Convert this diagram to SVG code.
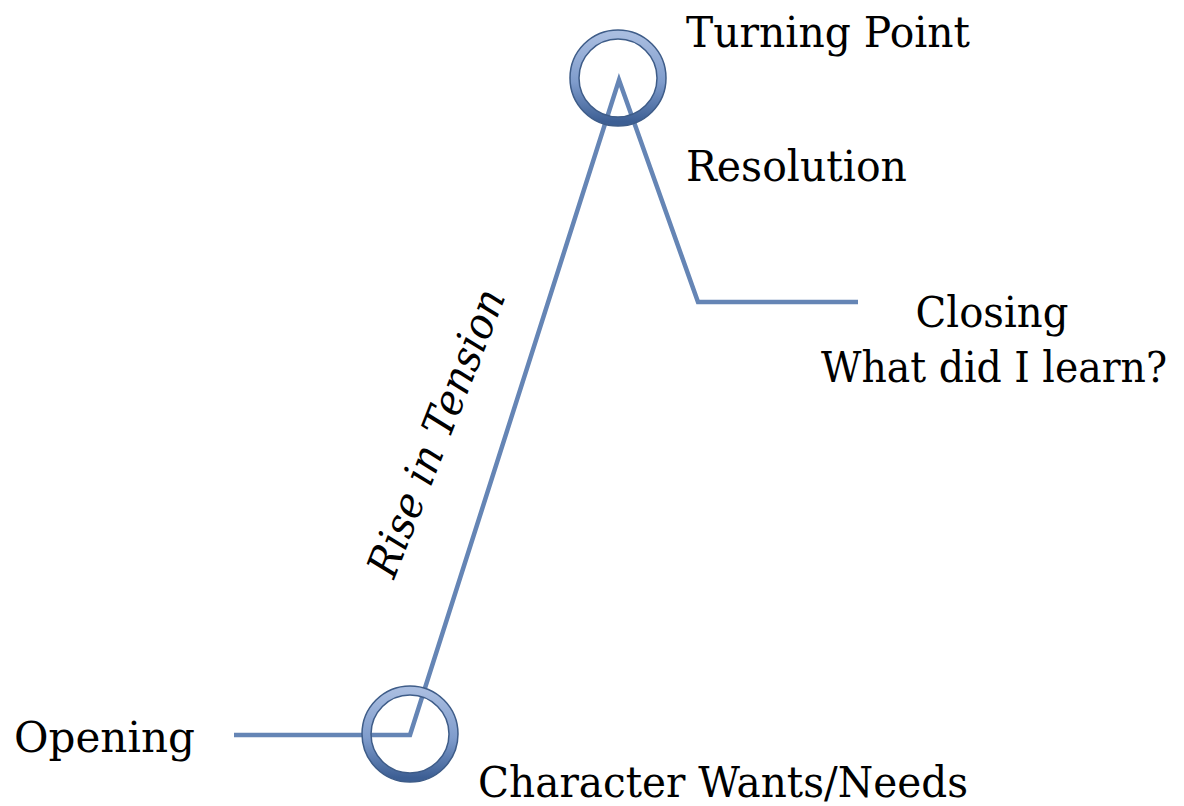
<svg xmlns="http://www.w3.org/2000/svg" width="1184" height="806" viewBox="0 0 1184 806">
<style>
.t{font-family:"DejaVu Serif","Liberation Serif",serif;font-size:43px;fill:#000}
.ln{fill:none;stroke:#6585b5;stroke-width:4.5;stroke-linejoin:miter}
.ring{fill:none;stroke:url(#rg);stroke-width:9}
.edge{fill:none;stroke:#3e5c88;stroke-width:1.5}
</style>
<defs>
<linearGradient id="rg" x1="0" y1="0" x2="0" y2="1">
<stop offset="0" stop-color="#a9bde0"/>
<stop offset="0.55" stop-color="#7f9ccc"/>
<stop offset="1" stop-color="#3d5f94"/>
</linearGradient>
</defs>
<rect width="1184" height="806" fill="#fff"/>
<g id="connectors">
<polyline class="ln" points="234,735 410,735 619,80 698,302 858,302"/>
</g>
<g id="ring-turning">
<circle class="ring" cx="618" cy="78" r="43.5"/>
<circle class="edge" cx="618" cy="78" r="48"/>
<circle class="edge" cx="618" cy="78" r="39"/>
</g>
<g id="ring-character">
<circle class="ring" cx="410" cy="734" r="43.5"/>
<circle class="edge" cx="410" cy="734" r="48"/>
<circle class="edge" cx="410" cy="734" r="39"/>
</g>
<g id="turning-point"><text class="t" x="686" y="47" textLength="284" lengthAdjust="spacingAndGlyphs">Turning Point</text></g>
<g id="resolution"><text class="t" x="686" y="181" textLength="221" lengthAdjust="spacingAndGlyphs">Resolution</text></g>
<g id="closing">
<text class="t" x="992" y="327" text-anchor="middle" textLength="153" lengthAdjust="spacingAndGlyphs">Closing</text>
<text class="t" x="994" y="382" text-anchor="middle" textLength="346" lengthAdjust="spacingAndGlyphs">What did I learn?</text>
</g>
<g id="opening"><text class="t" x="14" y="752" textLength="181" lengthAdjust="spacingAndGlyphs">Opening</text></g>
<g id="character"><text class="t" x="478" y="797" textLength="490" lengthAdjust="spacingAndGlyphs">Character Wants/Needs</text></g>
<g id="rise"><text class="t" font-style="italic" transform="translate(450,438) rotate(-68.5)" text-anchor="middle" textLength="305" lengthAdjust="spacingAndGlyphs">Rise in Tension</text></g>
</svg>
